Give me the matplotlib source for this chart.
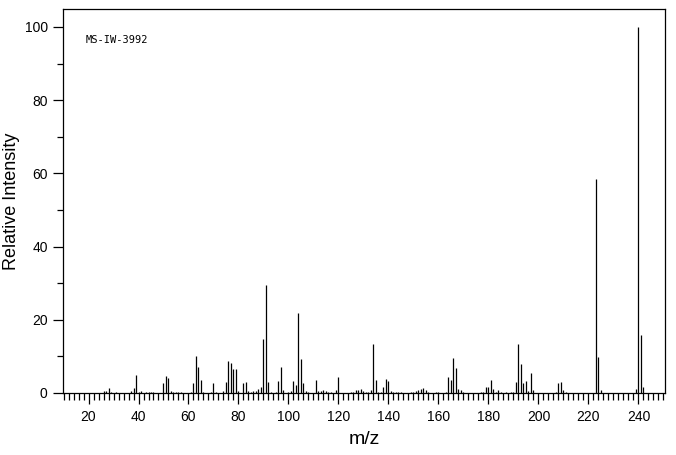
"""Mass spectrum MS-IW-3992 as a stick plot."""

import matplotlib
matplotlib.use("Agg")
import matplotlib.pyplot as plt
from matplotlib.ticker import MultipleLocator

plt.rcParams.update({
    "font.family": "Liberation Sans",
    "font.size": 10,
})

# ── Peaks (m/z, relative intensity) ───────────────────────────────────────
mz = [26, 27, 28, 29, 31, 37, 38, 39, 40, 41, 43, 44, 45, 46,
      50, 51, 52, 53, 54, 55, 56, 57,
      61, 62, 63, 64, 65, 66, 69, 70, 71,
      74, 75, 76, 77, 78, 79, 80,
      82, 83, 84, 85, 86, 87, 88, 89, 90, 91, 92, 93,
      95, 96, 97, 98, 100, 101, 102, 103, 104, 105, 106, 107, 108,
      111, 112, 113, 114, 115, 116, 117, 119, 120,
      125, 126, 127, 128, 129, 130, 131, 132, 133, 134, 135, 136, 137,
      138, 139, 140, 141, 142, 143, 144, 145,
      149, 150, 151, 152, 153, 154, 155, 156, 159, 160,
      163, 164, 165, 166, 167, 168, 169, 170,
      177, 178, 179, 180, 181, 182, 183, 184, 185, 187, 189, 190,
      191, 192, 193, 194, 195, 196, 197, 198,
      207, 208, 209, 210, 211,
      223, 224, 225,
      239, 240, 241, 242]
intensity = [0.5, 0.6, 1.3, 0.4, 0.3, 0.5, 1.3, 4.8, 0.3, 0.6, 0.3, 0.3, 0.3, 0.3,
             2.6, 4.6, 4.0, 0.6, 0.3, 0.3, 0.3, 0.3,
             0.4, 2.6, 10.0, 7.0, 3.5, 0.4, 0.4, 2.6, 0.4,
             0.6, 2.9, 8.7, 8.1, 6.5, 6.5, 0.5,
             2.6, 2.9, 0.5, 0.3, 0.5, 0.6, 1.2, 1.5, 14.7, 29.4, 2.9, 0.4,
             0.4, 3.2, 7.0, 0.9, 0.3, 0.5, 3.2, 2.1, 21.8, 9.2, 2.6, 0.5, 0.3,
             3.5, 0.5, 0.6, 0.8, 0.6, 0.4, 0.4, 0.8, 4.3,
             0.2, 0.4, 0.9, 0.8, 1.2, 0.6, 0.4, 0.3, 0.9, 13.5, 3.5, 0.3, 0.3,
             1.7, 3.7, 3.2, 0.5, 0.4, 0.3, 0.3, 0.3,
             0.3, 0.3, 0.6, 0.8, 1.1, 1.3, 0.7, 0.3, 0.3, 0.3,
             0.3, 4.3, 3.5, 9.5, 6.7, 1.0, 0.7, 0.3,
             0.3, 0.3, 1.5, 1.5, 3.5, 1.0, 0.4, 0.7, 0.3, 0.3, 0.3, 0.3,
             2.9, 13.5, 7.8, 2.6, 3.2, 0.5, 5.4, 0.7,
             0.2, 2.6, 2.9, 0.7, 0.3,
             58.5, 9.7, 0.7,
             1.0, 100.0, 15.8, 1.5]

label = "MS-IW-3992"

# ── Plot ───────────────────────────────────────────────────────────────────
fig = plt.figure(figsize=(6.76, 4.55), dpi=100)
ax = fig.add_axes([0.0932, 0.1363, 0.8905, 0.8439])

ax.vlines(mz, 0, intensity, color="black", linewidth=0.9)

ax.set_xlim(9.8, 250.6)
ax.set_ylim(0, 104.9)

ax.xaxis.set_major_locator(MultipleLocator(20))
ax.xaxis.set_minor_locator(MultipleLocator(2))
ax.yaxis.set_major_locator(MultipleLocator(20))
ax.yaxis.set_minor_locator(MultipleLocator(10))
ax.tick_params(which="major", direction="out", length=7, width=0.9,
               labelsize=10, pad=4)
ax.tick_params(which="minor", direction="out", length=4, width=0.9)
ax.tick_params(axis="x", which="minor", length=5)
ax.tick_params(axis="x", which="major", length=8)
for s in ax.spines.values():
    s.set_linewidth(0.9)

ax.set_xlabel("m/z", fontsize=14, labelpad=5)
ax.set_ylabel("Relative Intensity", fontsize=13)
ax.yaxis.set_label_coords(-0.072, 0.5)

ax.text(0.037, 0.919, label, transform=ax.transAxes, fontsize=7.5,
        family="DejaVu Sans Mono", ha="left", va="center")

fig.savefig("out.png", dpi=100)
plt.close(fig)
